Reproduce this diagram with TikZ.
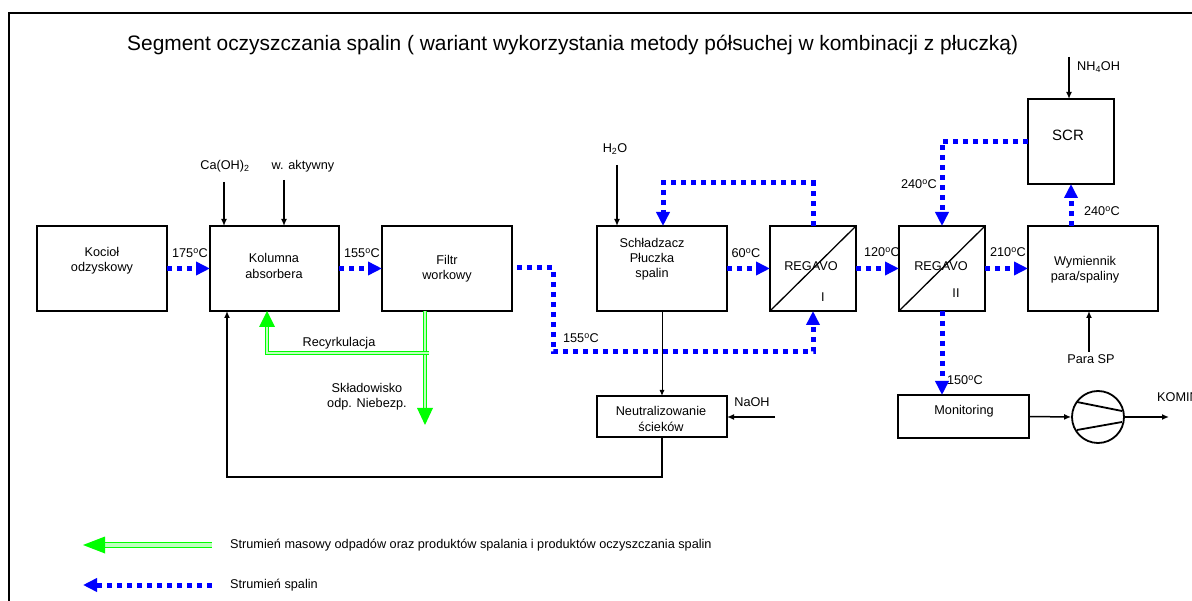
\documentclass[tikz,border=0pt]{standalone}
\usepackage{fontspec}
\setmainfont{Liberation Sans}
\usetikzlibrary{arrows.meta,calc}
\definecolor{flueblue}{RGB}{0,0,255}
\definecolor{wastegreen}{RGB}{0,255,0}
\newcommand{\degC}{\textsuperscript{o}C}
\begin{document}
\begin{tikzpicture}[x=1pt,y=-1pt,
  box/.style={draw,line width=1.8pt,inner sep=0pt,outer sep=0pt},
  txt/.style={font=\fontsize{12.7}{15.2}\selectfont,align=center,inner sep=0pt},
  flue/.style={color=flueblue,line width=5pt,dash pattern=on 5pt off 5pt,-{Triangle[length=14pt,width=13pt]}},
  waste/.style={draw=wastegreen,line width=1.2pt,double=wastegreen!25,double distance=2pt},
  feed/.style={line width=1.5pt,-{Latex[length=7pt,width=6pt]}},
  thinfeed/.style={line width=1pt,-{Latex[length=6pt,width=5pt]}}]
\useasboundingbox (0,0) rectangle (1192,601);
% frame
\draw[line width=2pt] (9,640) -- (9,13) -- (1220,13);
% title
\node[anchor=west,inner sep=0pt,font=\fontsize{20.9}{24}\selectfont] (title) at (127,45)
  {Segment oczyszczania spalin ( wariant wykorzystania metody półsuchej w kombinacji z płuczką)};
% boxes
\node[box,minimum width=130pt,minimum height=85pt] (koc) at (102,268.5) {};
\node[box,minimum width=129pt,minimum height=85pt] (kol) at (274.5,268.5) {};
\node[box,minimum width=130pt,minimum height=85pt] (fil) at (447,268.5) {};
\node[box,minimum width=130pt,minimum height=85pt] (sch) at (662,268.5) {};
\node[box,minimum width=86pt,minimum height=85pt] (reg1) at (813,268.5) {};
\node[box,minimum width=86pt,minimum height=85pt] (reg2) at (942,268.5) {};
\node[box,minimum width=130pt,minimum height=85pt] (wym) at (1093,268.5) {};
\node[box,minimum width=86pt,minimum height=85pt] (scr) at (1071,141.5) {};
\node[box,minimum width=131pt,minimum height=43pt] (mon) at (963.5,416.5) {};
\node[box,minimum width=130pt,minimum height=41pt] (neu) at (662,416.5) {};
\node[draw,circle,line width=1.8pt,minimum size=52pt,inner sep=0pt] (comp) at (1098,417) {};
\draw[line width=1.3pt] (reg1.south west) -- (reg1.north east);
\draw[line width=1.3pt] (reg2.south west) -- (reg2.north east);
\draw[line width=1.8pt] ($(comp.center)+(-21,-15)$) -- ($(comp.center)+(24,-6)$);
\draw[line width=1.8pt] ($(comp.center)+(-21,13)$) -- ($(comp.center)+(24,5)$);
% box texts
\node[txt] (koct) at (102,261) {Kocioł\\odzyskowy};
\node[txt] (kolt) at (274,266) {Kolumna\\absorbera};
\node[txt] (filt) at (447,269) {Filtr\\workowy};
\node[txt] (scht) at (652,259) {Schładzacz\\Płuczka\\spalin};
\node[txt] (reg1t) at (811,266) {REGAVO};
\node[txt] (reg1n) at (823,297) {I};
\node[txt] (reg2t) at (941,266) {REGAVO};
\node[txt] (reg2n) at (956,293) {II};
\node[txt] (wymt) at (1085,270) {Wymiennik\\para/spaliny};
\node[txt,font=\fontsize{15}{18}\selectfont] (scrt) at (1068,135) {SCR};
\node[txt] (mont) at (964,411) {Monitoring};
\node[txt] (neut) at (661,419) {Neutralizowanie\\ścieków};
% temperature labels
\node[txt] (t1) at (190,253) {175\degC};
\node[txt] (t2) at (362,253) {155\degC};
\node[txt] (t3) at (746,253) {60\degC};
\node[txt] (t4) at (882,252) {120\degC};
\node[txt] (t5) at (1008,252) {210\degC};
\node[txt] (t6) at (919,184) {240\degC};
\node[txt] (t7) at (1102,211) {240\degC};
\node[txt] (t8) at (581,338) {155\degC};
\node[txt] (t9) at (965,380) {150\degC};
% other labels
\node[txt] (caL) at (225,166) {Ca(OH)\textsubscript{2}};
\node[txt] (wL) at (303,166) {w. aktywny};
\node[txt] (hL) at (615,149) {H\textsubscript{2}O};
\node[txt,anchor=west] (nhL) at (1077,67) {NH\textsubscript{4}OH};
\node[txt] (paraL) at (1091,359) {Para SP};
\node[txt] (naL) at (752,402) {NaOH};
\node[txt] (recL) at (339,343) {Recyrkulacja};
\node[txt] (skL) at (367,397) {Składowisko\\odp. Niebezp.};
\node[txt,anchor=west] (komL) at (1157,397) {KOMIN};
% coordinates
\coordinate (caT) at (224,182);
\coordinate (wT) at (284,180);
\coordinate (hT) at (617,165);
\coordinate (nhT) at (1069,57);
\coordinate (paraT) at (1089,352);
\coordinate (naT) at (775,417);
\coordinate (lo) at (227,477);
\coordinate (kom) at (1169,417);
\coordinate (fo) at (517,268);
\coordinate (fc) at (553,268);
\coordinate (yl) at (0,352);
\coordinate (lp) at (663,183);
% flue gas flows
\draw[flue] (koc.east) -- (kol.west);
\draw[flue] (kol.east) -- (fil.west);
\draw[flue] (fo) -- (fc) -- (fc |- yl) -- (reg1.south |- yl) -- (reg1.south);
\draw[flue] (sch.east) -- (reg1.west);
\draw[flue] (reg1.east) -- (reg2.west);
\draw[flue] (reg2.east) -- (wym.west);
\draw[flue] (reg1.north) |- (lp) -- (lp |- sch.north);
\draw[flue] (scr.south |- wym.north) -- (scr.south);
\draw[flue] (scr.west) -| (reg2.north);
\draw[flue] (reg2.south) -- (reg2.south |- mon.north);
% feeds
\draw[feed] (caT) -- (caT |- kol.north);
\draw[feed] (wT) -- (wT |- kol.north);
\draw[feed] (hT) -- (hT |- sch.north);
\draw[feed] (nhT) -- (nhT |- scr.north);
\draw[feed] (paraT) -- (paraT |- wym.south);
\draw[feed] (naT) -- (naT -| neu.east);
\draw[thinfeed] (sch.south) -- (neu.north);
\draw[feed] (neu.south) |- (lo) -- (lo |- kol.south);
\draw[feed] (mon.east) -- (comp.west);
\draw[feed] (comp.east) -- (kom);
% waste (green) flows
\coordinate (gd) at (425,311);
\coordinate (gdT) at (425,425);
\coordinate (gh) at (429,353);
\coordinate (gu) at (267,353);
\draw[waste] (gd) -- ($(gdT)+(0,-17)$);
\fill[wastegreen] (gdT) -- ++(-8,-17) -- ++(16,0) -- cycle;
\draw[waste] (gh) -- (gu) -- ($(gu |- kol.south)+(0,16)$);
\fill[wastegreen] (gu |- kol.south) -- ++(-8,16) -- ++(16,0) -- cycle;
% legend
\coordinate (lg1) at (212,545);
\coordinate (lg1T) at (83,545);
\coordinate (lg2) at (212,585);
\coordinate (lg2T) at (83,585);
\draw[waste,line width=1.5pt,double distance=3.5pt] (lg1) -- ($(lg1T)+(21,0)$);
\fill[wastegreen] (lg1T) -- ++(22,-8.5) -- ++(0,17) -- cycle;
\draw[flue] (lg2) -- (lg2T);
\node[txt,anchor=west] (leg1) at (230,545) {Strumień masowy odpadów oraz produktów spalania i produktów oczyszczania spalin};
\node[txt,anchor=west] (leg2) at (230,585) {Strumień spalin};
\end{tikzpicture}
\end{document}
